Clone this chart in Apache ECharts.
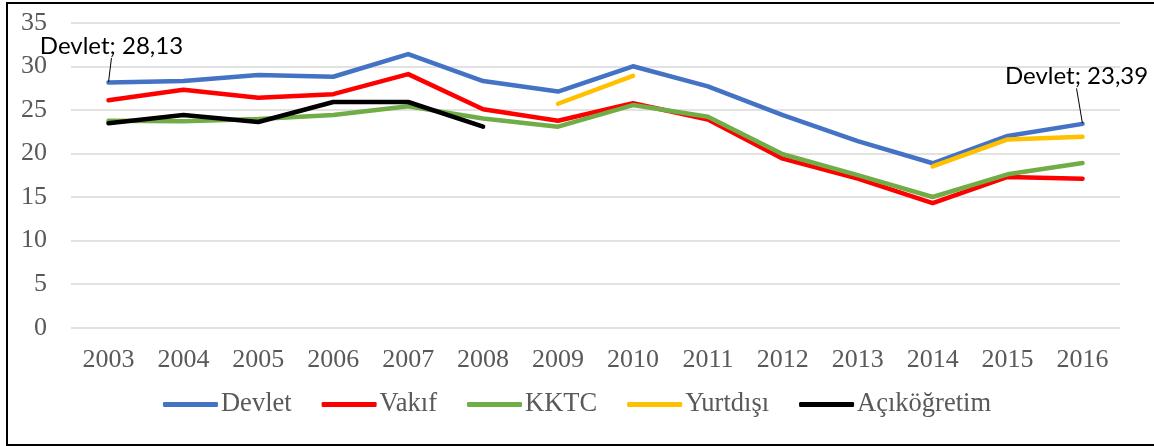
<!DOCTYPE html>
<html>
<head>
<meta charset="utf-8">
<script src="https://cdn.jsdelivr.net/npm/echarts@6/dist/echarts.min.js"></script>
<style>
html,body{margin:0;padding:0;background:#fff;}
#frame{position:absolute;left:6px;top:2px;width:1160px;height:440px;border:2px solid #000;box-sizing:content-box;}
#chart{position:absolute;left:0;top:0;width:1154px;height:446px;}
</style>
</head>
<body>
<div id="frame"></div>
<div id="chart"></div>
<script>
const years = ['2003','2004','2005','2006','2007','2008','2009','2010','2011','2012','2013','2014','2015','2016'];
const devlet = [28.13, 28.3, 29.0, 28.8, 31.4, 28.3, 27.1, 30.0, 27.7, 24.4, 21.4, 18.87, 22.0, 23.39];
const vakif = [26.1, 27.3, 26.4, 26.8, 29.1, 25.06, 23.75, 25.75, 23.9, 19.4, 17.1, 14.3, 17.3, 17.1];
const kktc = [23.75, 23.7, 23.95, 24.4, 25.4, 24.0, 23.07, 25.55, 24.2, 19.9, 17.5, 15.0, 17.6, 18.9];
const yurtdisi = [null, null, null, null, null, null, 25.7, 28.9, null, null, null, 18.5, 21.6, 21.9];
const acikogretim = [23.45, 24.4, 23.6, 25.9, 25.9, 23.07, null, null, null, null, null, null, null, null];
const yTicks = [0, 5, 10, 15, 20, 25, 30, 35];

const serif = 'Liberation Serif';
const chart = echarts.init(document.getElementById('chart'));

function mk(name, data, color, extra) {
  return Object.assign({
    name: name,
    type: 'line',
    data: data,
    showSymbol: false,
    symbol: 'none',
    connectNulls: false,
    lineStyle: {color: color, width: 4.5, cap: 'round', join: 'round'},
    itemStyle: {color: color},
    emphasis: {disabled: true},
    animation: false
  }, extra || {});
}

const devletData = devlet.map((v, i) => {
  if (i === 0 || i === devlet.length - 1) {
    return {value: v, symbol: 'circle', symbolSize: 1, label: {show: true}};
  }
  return {value: v};
});

chart.setOption({
  animation: false,
  textStyle: {fontFamily: serif},
  grid: {left: 71, right: 34, top: 22.7, bottom: 118.3},
  legend: {
    bottom: 23,
    left: 'center',
    itemWidth: 55,
    itemHeight: 5,
    itemGap: 30,
    icon: 'roundRect',
    textStyle: {fontFamily: serif, fontSize: 26.5, color: '#595959', padding: [0, 0, 0, -2]},
    data: ['Devlet', 'Vakıf', 'KKTC', 'Yurtdışı', 'Açıköğretim']
  },
  xAxis: {
    type: 'category',
    data: years,
    boundaryGap: true,
    axisLine: {show: false},
    axisTick: {show: false},
    axisLabel: {fontFamily: serif, fontSize: 26, color: '#595959', margin: 19}
  },
  yAxis: {
    type: 'value',
    min: yTicks[0],
    max: yTicks[yTicks.length - 1],
    interval: 5,
    axisLine: {show: false},
    axisTick: {show: false},
    splitLine: {lineStyle: {color: '#d9d9d9', width: 1.5}},
    axisLabel: {fontFamily: serif, fontSize: 26, color: '#595959', margin: 24}
  },
  series: [
    mk('Devlet', devletData, '#4472C4', {
      showSymbol: true,
      symbol: 'none',
      label: {
        show: false,
        position: 'top',
        fontFamily: 'Lato',
        fontSize: 24,
        color: '#000',
        formatter: p => 'Devlet; ' + String(p.value).replace('.', ',')
      },
      labelLine: {show: true, lineStyle: {color: '#000', width: 1}},
      labelLayout: p => p.dataIndex === 0 ? {dx: 3, dy: -19} : {dx: -6, dy: -30}
    }),
    mk('Vakıf', vakif, '#FF0000'),
    mk('KKTC', kktc, '#70AD47'),
    mk('Yurtdışı', yurtdisi, '#FFC000'),
    mk('Açıköğretim', acikogretim, '#000000')
  ]
});
</script>
</body>
</html>
